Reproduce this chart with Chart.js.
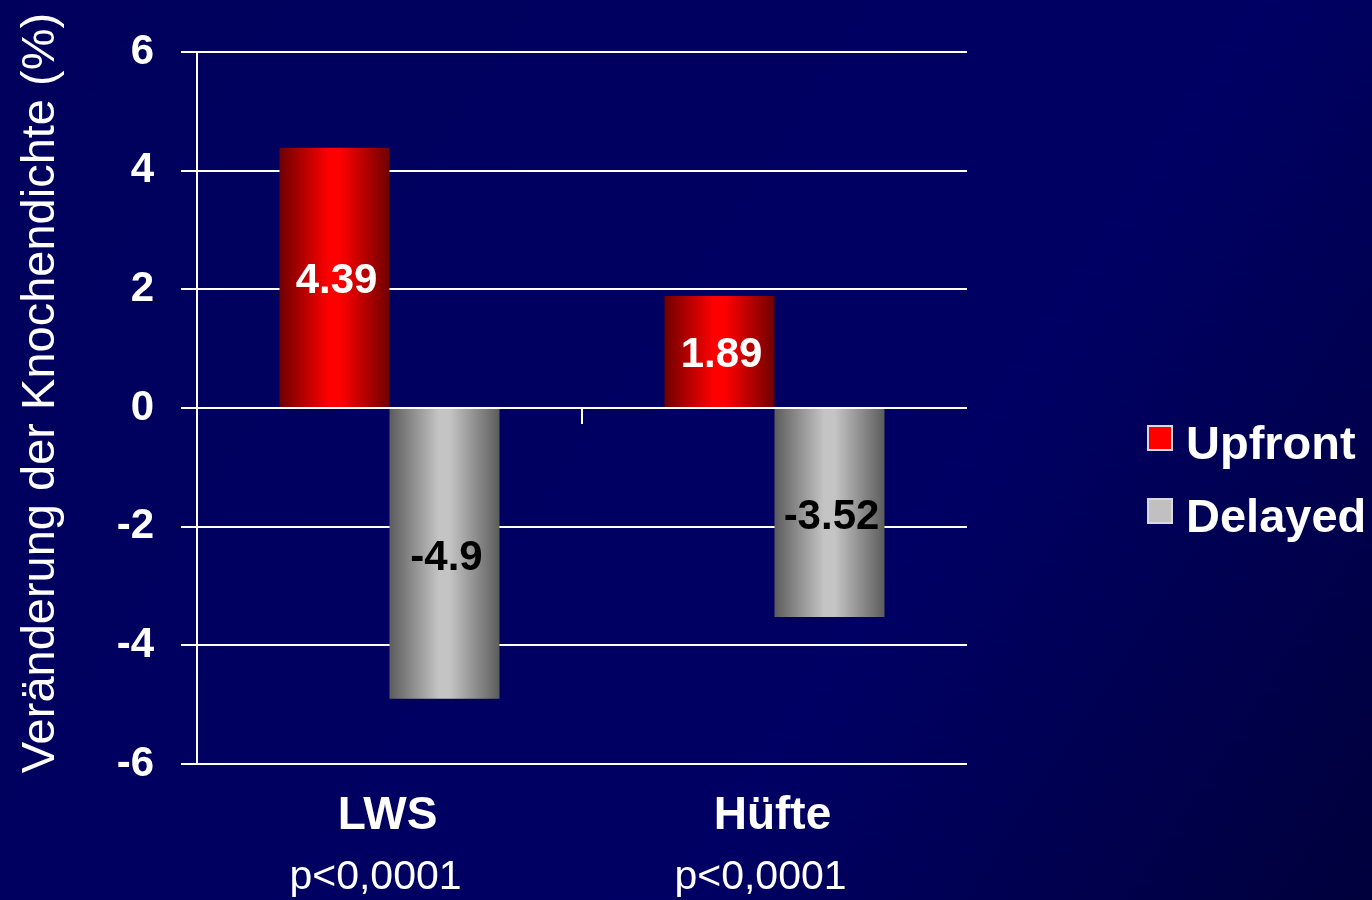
<!DOCTYPE html>
<html>
<head>
<meta charset="utf-8">
<script src="https://cdn.jsdelivr.net/npm/chart.js@4"></script>
<style>
  html, body { margin: 0; padding: 0; background: #000060; }
  #wrap { width: 1372px; height: 900px; }
</style>
</head>
<body>
<div id="wrap"><canvas id="bmd"></canvas></div>
<script>
const categories = ['LWS', 'Hüfte'];
const pValues = ['p<0,0001', 'p<0,0001'];
const upfront = [4.39, 1.89];
const delayed = [-4.9, -3.52];
const seriesNames = ['Upfront', 'Delayed'];
const yTicks = [-6, -4, -2, 0, 2, 4, 6];
const yTitle = 'Veränderung der Knochendichte (%)';

const FONT = '"Liberation Sans", Arial, sans-serif';
const CAT_PCT = 0.5714;

// cylinder-like shading across each bar
function barFill(dark, light) {
  return (c) => {
    const chart = c.chart;
    const xs = chart.scales.x;
    if (!chart.chartArea || !xs) return light;
    const nSets = chart.data.datasets.length;
    const catW = xs.width / chart.data.labels.length;
    const barW = catW * CAT_PCT / nSets;
    const left = xs.getPixelForValue(c.dataIndex) - catW * CAT_PCT / 2 + c.datasetIndex * barW;
    const g = chart.ctx.createLinearGradient(left, 0, left + barW, 0);
    g.addColorStop(0, dark);
    g.addColorStop(0.45, light);
    g.addColorStop(0.55, light);
    g.addColorStop(1, dark);
    return g;
  };
}

const background = {
  id: 'background',
  beforeDraw(chart) {
    const { ctx, width, height } = chart;
    const g = ctx.createLinearGradient(0, 0, width, height);
    g.addColorStop(0, '#00005c');
    g.addColorStop(0.65, '#000064');
    g.addColorStop(1, '#00003c');
    ctx.save();
    ctx.fillStyle = g;
    ctx.fillRect(0, 0, width, height);
    ctx.restore();
  }
};

const extras = {
  id: 'extras',
  afterDatasetsDraw(chart) {
    const { ctx } = chart;
    const xs = chart.scales.x, ys = chart.scales.y;
    ctx.save();

    // small tick between the two groups on the zero line
    const y0 = ys.getPixelForValue(0);
    const xm = xs.getPixelForValue(0.5);
    ctx.strokeStyle = '#ffffff';
    ctx.lineWidth = 2;
    ctx.beginPath();
    ctx.moveTo(xm, y0);
    ctx.lineTo(xm, y0 + 16);
    ctx.stroke();

    // value labels inside bars
    ctx.textAlign = 'center';
    ctx.textBaseline = 'middle';
    ctx.font = 'bold 42px ' + FONT;
    chart.data.datasets.forEach((ds, di) => {
      chart.getDatasetMeta(di).data.forEach((el, i) => {
        ctx.fillStyle = di === 0 ? '#ffffff' : '#000000';
        ctx.fillText(String(ds.data[i]), el.x + 2, (el.y + el.base) / 2 + 4);
      });
    });

    // category labels with p-values
    categories.forEach((cat, i) => {
      const x = xs.getPixelForValue(i);
      ctx.fillStyle = '#ffffff';
      ctx.font = 'bold 46px ' + FONT;
      ctx.fillText(cat, x - 2, 816);
      ctx.font = '41px ' + FONT;
      ctx.fillText(pValues[i], x - 14, 878);
    });

    // rotated axis title
    ctx.save();
    ctx.translate(41, 393);
    ctx.rotate(-Math.PI / 2);
    ctx.font = '47px ' + FONT;
    ctx.fillText(yTitle, 0, 0);
    ctx.restore();

    // legend
    ctx.textAlign = 'left';
    ctx.font = 'bold 47px ' + FONT;
    chart.data.datasets.forEach((ds, di) => {
      const top = 426 + di * 73;
      ctx.fillStyle = ds.legendColor;
      ctx.fillRect(1148, top, 24, 24);
      ctx.strokeStyle = '#d8d8e8';
      ctx.lineWidth = 2;
      ctx.strokeRect(1148, top, 24, 24);
      ctx.fillStyle = '#ffffff';
      ctx.fillText(ds.label, 1186, top + 20);
    });
    ctx.restore();
  }
};

new Chart(document.getElementById('bmd'), {
  type: 'bar',
  data: {
    labels: categories,
    datasets: [
      { label: seriesNames[0], data: upfront, legendColor: '#ff0000',
        backgroundColor: barFill('#700000', '#ff0000') },
      { label: seriesNames[1], data: delayed, legendColor: '#c0c0c0',
        backgroundColor: barFill('#5c5c5c', '#c4c4c4') }
    ]
  },
  options: {
    responsive: true,
    maintainAspectRatio: false,
    animation: false,
    categoryPercentage: CAT_PCT,
    barPercentage: 1,
    layout: { padding: { left: 0, top: 52, right: 405, bottom: 136 } },
    plugins: { legend: { display: false }, tooltip: { enabled: false } },
    scales: {
      x: { display: false },
      y: {
        min: -6, max: 6,
        afterFit: (s) => { s.width = 197; },
        afterBuildTicks: (s) => { s.ticks = yTicks.map(v => ({ value: v })); },
        border: { display: true, color: '#ffffff', width: 2 },
        grid: { color: '#ffffff', lineWidth: 2, tickLength: 16, tickColor: '#ffffff' },
        ticks: {
          color: '#ffffff', padding: 27,
          font: { family: FONT, size: 42, weight: 'bold' }
        }
      }
    }
  },
  plugins: [background, extras]
});
</script>
</body>
</html>
